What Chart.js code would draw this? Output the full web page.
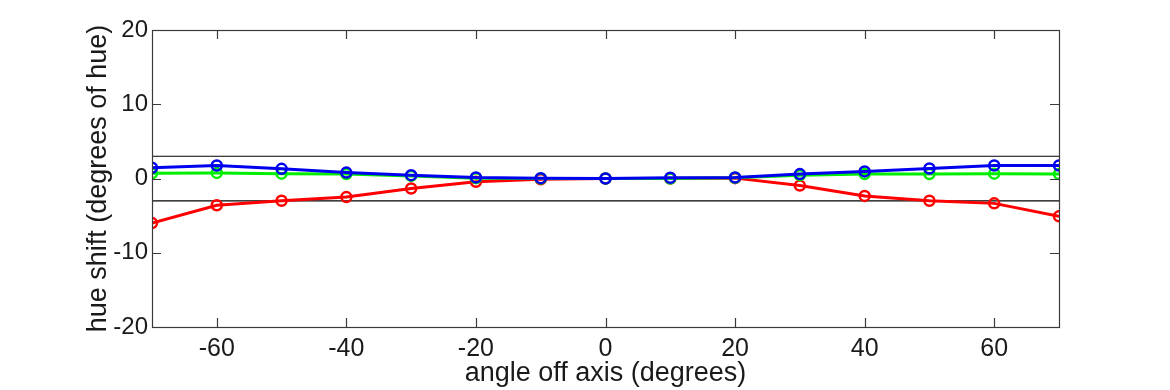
<!DOCTYPE html>
<html>
<head>
<meta charset="utf-8">
<script src="https://cdn.jsdelivr.net/npm/chart.js@4.4.0/dist/chart.umd.min.js"></script>
<style>
  html, body { margin: 0; padding: 0; background: #fff; }
  #wrap { width: 1170px; height: 390px; }
</style>
</head>
<body>
<div id="wrap"><canvas id="myChart" width="1170" height="390"></canvas></div>
<script>
// angles off axis (degrees)
angles = [-70, -60, -50, -40, -30, -20, -10, 0, 10, 20, 30, 40, 50, 60, 70];

// hue shift per channel (degrees of hue)
redShift   = [-6.0, -3.6, -3.0, -2.5, -1.35, -0.45, -0.1, 0, 0, 0.05, -0.95, -2.35, -3.0, -3.35, -5.1];
greenShift = [0.7, 0.75, 0.65, 0.6, 0.35, 0.05, 0, 0, 0, 0.1, 0.45, 0.6, 0.6, 0.65, 0.6];
blueShift  = [1.45, 1.75, 1.3, 0.8, 0.45, 0.15, 0.05, 0, 0.1, 0.15, 0.6, 0.95, 1.35, 1.75, 1.75];

// tolerance lines
limitX = [-70, 70];
upperLimit = [3, 3];
lowerLimit = [-3, -3];

yTicks = [-20, -10, 0, 10, 20];
xTicks = [-60, -40, -20, 0, 20, 40, 60];

function pts(xs, ys){
  return xs.map((x, i) => ({x: x, y: ys[i]}));
}

function series(label, color, values, order){
  return {
    label: label,
    data: pts(angles, values),
    borderColor: color,
    backgroundColor: 'rgba(255,255,255,0)',
    borderWidth: 3,
    pointRadius: 5,
    pointBorderWidth: 2.5,
    pointBorderColor: color,
    pointBackgroundColor: 'rgba(255,255,255,0)',
    tension: 0,
    order: order
  };
}

function limit(values){
  return {
    data: pts(limitX, values),
    borderColor: '#000',
    borderWidth: 1.2,
    pointRadius: 0,
    order: 5
  };
}

// inward MATLAB-style tick marks + box
const boxTicks = {
  id: 'boxTicks',
  afterDatasetsDraw(chart){
    const ctx = chart.ctx;
    const a = chart.chartArea;
    const xs = chart.scales.x, ys = chart.scales.y;
    const len = 9;
    ctx.save();
    ctx.strokeStyle = '#3a3a3a';
    ctx.lineWidth = 1.2;
    ctx.beginPath();
    yTicks.forEach(v => {
      const py = Math.round(ys.getPixelForValue(v)) + 0.5;
      ctx.moveTo(a.left, py); ctx.lineTo(a.left + len, py);
      ctx.moveTo(a.right, py); ctx.lineTo(a.right - len, py);
    });
    xTicks.forEach(v => {
      const px = Math.round(xs.getPixelForValue(v)) + 0.5;
      ctx.moveTo(px, a.bottom); ctx.lineTo(px, a.bottom - len);
      ctx.moveTo(px, a.top); ctx.lineTo(px, a.top + len);
    });
    ctx.stroke();
    ctx.strokeRect(Math.round(a.left) + 0.5, Math.round(a.top) + 0.5,
                   Math.round(a.right - a.left), Math.round(a.bottom - a.top));
    ctx.restore();
  }
};

const config = {
  type: 'line',
  data: {
    datasets: [
      series('blue', '#0000f0', blueShift, 1),
      series('green', '#00ee00', greenShift, 2),
      series('red', '#ff0000', redShift, 3),
      limit(upperLimit),
      limit(lowerLimit)
    ]
  },
  options: {
    responsive: false,
    animation: false,
    layout: { padding: { top: 30, right: 111, left: 82, bottom: 0 } },
    plugins: {
      legend: { display: false },
      tooltip: { enabled: false }
    },
    scales: {
      x: {
        type: 'linear',
        min: -70,
        max: 70,
        afterFit: s => { s.height = 63; },
        afterBuildTicks: s => { s.ticks = xTicks.map(v => ({value: v})); },
        grid: { display: false, drawTicks: false },
        border: { display: false },
        ticks: {
          color: '#1a1a1a',
          padding: 7,
          maxRotation: 0,
          font: { family: 'Liberation Sans', size: 25 }
        },
        title: {
          display: true,
          text: 'angle off axis (degrees)',
          color: '#1a1a1a',
          padding: { top: 4, bottom: 0 },
          font: { family: 'Liberation Sans', size: 27 }
        }
      },
      y: {
        type: 'linear',
        min: -20,
        max: 20,
        afterFit: s => { s.width = 70; },
        afterBuildTicks: s => { s.ticks = yTicks.map(v => ({value: v})); },
        grid: { display: false, drawTicks: false },
        border: { display: false },
        ticks: {
          color: '#1a1a1a',
          padding: 4,
          font: { family: 'Liberation Sans', size: 24 }
        },
        title: {
          display: true,
          text: 'hue shift (degrees of hue)',
          color: '#1a1a1a',
          padding: { top: 0, bottom: 0 },
          font: { family: 'Liberation Sans', size: 27 }
        }
      }
    }
  },
  plugins: [boxTicks]
};

const myChart = new Chart(
  document.getElementById('myChart'),
  config
);
</script>
</body>
</html>
